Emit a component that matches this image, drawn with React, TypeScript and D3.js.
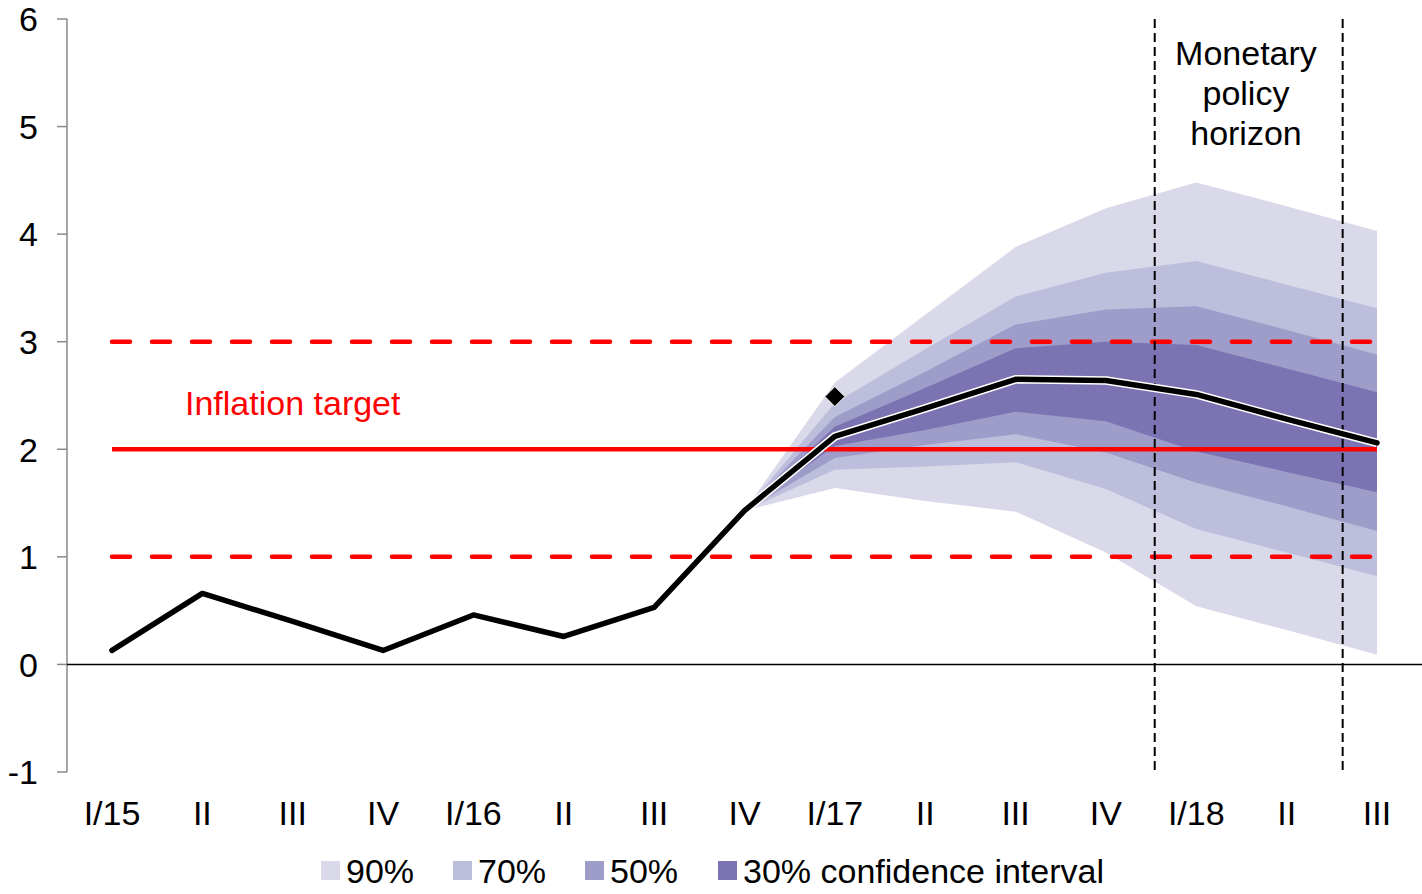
import * as d3 from "d3";

const categories = ["I/15", "II", "III", "IV", "I/16", "II", "III", "IV", "I/17", "II", "III", "IV", "I/18", "II", "III"];
const inflation = [0.13, 0.66, 0.4, 0.13, 0.46, 0.26, 0.53, 1.43, 2.12, 2.38, 2.65, 2.64, 2.51, 2.28, 2.06];
const forecastStart = 7;

// fan chart bands, from IV/16 to III/18
const upper90 = [1.43, 2.62, 3.25, 3.88, 4.24, 4.48, 4.26, 4.03];
const upper70 = [1.43, 2.43, 2.93, 3.42, 3.64, 3.75, 3.53, 3.31];
const upper50 = [1.43, 2.3, 2.72, 3.16, 3.3, 3.33, 3.11, 2.88];
const upper30 = [1.43, 2.21, 2.57, 2.94, 3.0, 2.97, 2.75, 2.53];
const lower30 = [1.43, 2.03, 2.18, 2.35, 2.26, 1.98, 1.79, 1.6];
const lower50 = [1.43, 1.92, 2.04, 2.14, 1.97, 1.69, 1.47, 1.24];
const lower70 = [1.43, 1.81, 1.84, 1.88, 1.63, 1.26, 1.04, 0.82];
const lower90 = [1.43, 1.64, 1.52, 1.42, 1.04, 0.54, 0.32, 0.09];

const target = 2;
const targetBand = [1, 3];
const previousForecast = { index: 8, value: 2.49 };
const horizon = [11.54, 13.62];
const yTicks = [-1, 0, 1, 2, 3, 4, 5, 6];

const legendLabels = ["90%", "70%", "50%", "30% confidence interval"];
const bandColors = ["#dad9ea", "#bdbddc", "#9e9cc8", "#7c73b3"];

const W = 1422;
const H = 894;
const FONT = "'Liberation Sans', Arial, sans-serif";

export default function App() {
  const x = d3.scaleLinear().domain([0, 14]).range([112, 1377]);
  const y = d3.scaleLinear().domain([-1, 6]).range([772, 19]);

  const bands = [
    { up: upper90, lo: lower90 },
    { up: upper70, lo: lower70 },
    { up: upper50, lo: lower50 },
    { up: upper30, lo: lower30 },
  ];

  const area = (up: number[], lo: number[]) =>
    d3
      .area<number>()
      .x((_, i) => x(forecastStart + i))
      .y0((_, i) => y(lo[i]))
      .y1((d) => y(d))(up) as string;

  const line = d3
    .line<number>()
    .x((_, i) => x(i))
    .y((d) => y(d));

  const forecastLine = d3
    .line<number>()
    .x((_, i) => x(forecastStart + i))
    .y((d) => y(d));

  const x0 = x(0);
  const x1 = x(14);
  const d = 10;
  const px = x(previousForecast.index);
  const py = y(previousForecast.value);

  const legendX = [321, 453, 585, 718];

  return (
    <svg
      width={W}
      height={H}
      style={{ position: "absolute", left: 0, top: 0, background: "#fff" }}
      fontFamily={FONT}
    >
      {bands.map((b, i) => (
        <path key={i} d={area(b.up, b.lo)} fill={bandColors[i]} />
      ))}

      {/* y axis */}
      <line x1={67} x2={67} y1={y(6)} y2={y(-1)} stroke="#888" strokeWidth={1.5} />
      {yTicks.map((t) => (
        <g key={t}>
          <line x1={57} x2={67} y1={y(t)} y2={y(t)} stroke="#888" strokeWidth={1.5} />
          <text x={38} y={y(t)} dy="0.36em" textAnchor="end" fontSize={34}>
            {t}
          </text>
        </g>
      ))}
      <line x1={67} x2={W} y1={y(0)} y2={y(0)} stroke="#000" strokeWidth={1.5} />

      {/* inflation target */}
      <line x1={x0} x2={x1} y1={y(target)} y2={y(target)} stroke="#ff0000" strokeWidth={4.5} />
      {targetBand.map((v) => (
        <line
          key={v}
          x1={x0}
          x2={x1}
          y1={y(v)}
          y2={y(v)}
          stroke="#ff0000"
          strokeWidth={4.5}
          strokeDasharray="18 22"
          strokeLinecap="round"
        />
      ))}
      <text x={185} y={y(2.43)} dy="0.36em" fontSize={34} fill="#ff0000">
        Inflation target
      </text>

      {/* monetary policy horizon */}
      {horizon.map((h) => (
        <line
          key={h}
          x1={x(h)}
          x2={x(h)}
          y1={y(6)}
          y2={y(-1)}
          stroke="#000"
          strokeWidth={2}
          strokeDasharray="9 5"
        />
      ))}
      <text textAnchor="middle" fontSize={34} x={x(12.55)}>
        <tspan x={x(12.55)} y={65}>Monetary</tspan>
        <tspan x={x(12.55)} y={105}>policy</tspan>
        <tspan x={x(12.55)} y={145}>horizon</tspan>
      </text>

      {/* inflation line */}
      <path
        d={forecastLine(inflation.slice(forecastStart)) as string}
        fill="none"
        stroke="#fff"
        strokeWidth={8.5}
        strokeLinejoin="round"
      />
      <path
        d={line(inflation) as string}
        fill="none"
        stroke="#000"
        strokeWidth={5.5}
        strokeLinejoin="round"
        strokeLinecap="round"
      />

      {/* previous forecast */}
      <path
        d={`M${px},${py - d}L${px + d},${py}L${px},${py + d}L${px - d},${py}Z`}
        fill="#000"
        stroke="#fff"
        strokeWidth={1}
      />

      {/* category labels */}
      {categories.map((c, i) => (
        <text key={i} x={x(i)} y={813} dy="0.36em" textAnchor="middle" fontSize={34}>
          {c}
        </text>
      ))}

      {/* legend */}
      {legendLabels.map((l, i) => (
        <g key={l}>
          <rect x={legendX[i]} y={861} width={19} height={19} fill={bandColors[i]} />
          <text x={legendX[i] + 25} y={871} dy="0.36em" fontSize={34}>
            {l}
          </text>
        </g>
      ))}
    </svg>
  );
}
